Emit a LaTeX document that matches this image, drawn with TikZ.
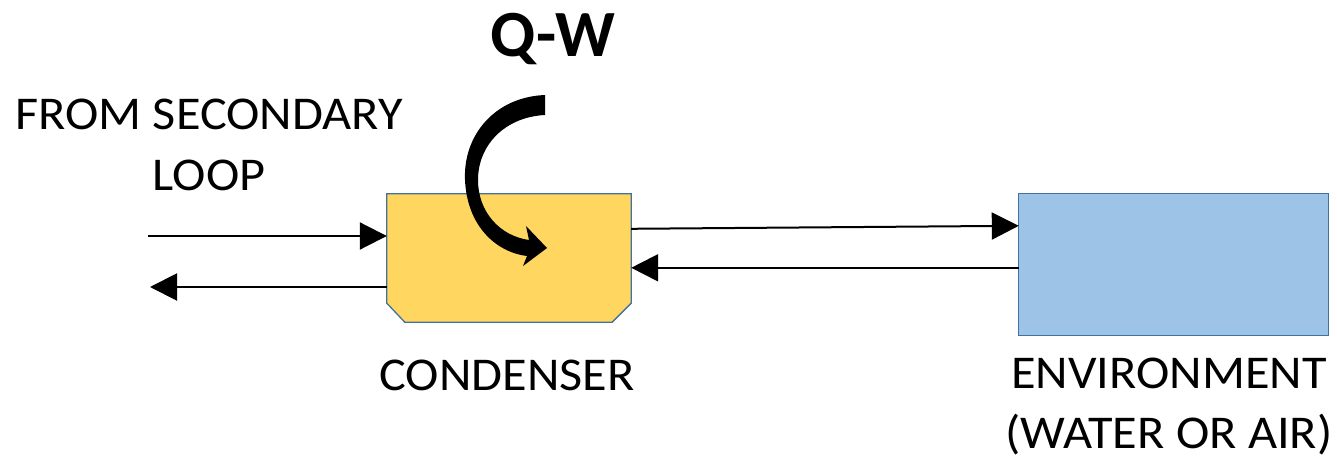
\documentclass[tikz,border=0pt]{standalone}
\usepackage{fontspec}
\setmainfont{Carlito}
\newfontfamily\lblfont{Carlito}[FakeStretch=1.07]
\usetikzlibrary{arrows.meta}
\definecolor{condfill}{RGB}{255,214,95}
\definecolor{envfill}{RGB}{157,195,230}
\definecolor{edgeblue}{RGB}{65,113,156}
\tikzset{
  lbl/.style={font=\lblfont\fontsize{47}{60}\selectfont, inner sep=0pt, align=center, anchor=base},
  qwlbl/.style={font=\fontsize{66}{70}\selectfont\bfseries, inner sep=0pt, anchor=base},
  boxnode/.style={inner sep=0pt, draw=none},
  arr/.style={line width=2pt, -{Triangle[length=27pt,width=27pt]}}
}
\begin{document}
\begin{tikzpicture}[x=1pt,y=-1pt]
\useasboundingbox (0,0) rectangle (1338,465);
% nodes
\node[boxnode, minimum width=244pt, minimum height=128pt] (cond) at (509,258) {};
\node[boxnode, minimum width=309pt, minimum height=141pt] (env) at (1173.5,264.5) {};
\fill[envfill, draw=edgeblue, line width=1.3pt] (env.north west) rectangle (env.south east);
\fill[condfill, draw=edgeblue, line width=1.3pt]
  (cond.north west) -- (cond.north east) -- ([yshift=19pt]cond.south east)
  -- ([xshift=-19pt]cond.south east) -- ([xshift=18pt]cond.south west)
  -- ([yshift=19pt]cond.south west) -- cycle;
% labels
\node[qwlbl] (qw) at (553,57) {Q-W};
\node[lbl] (src) at (209,190) {FROM SECONDARY\\LOOP};
\node[lbl] (condlbl) at (507,390) {CONDENSER};
\node[lbl] (envlbl) at (1169,448) {ENVIRONMENT\\(WATER OR AIR)};
% connectors
\coordinate (inL) at (148,236);
\coordinate (outL) at (150,287);
\draw[arr] (inL) -- (inL -| cond.west);
\draw[arr] (outL -| cond.west) -- (outL);
\draw[arr] ([yshift=-35pt]cond.north east) -- ([yshift=-32pt]env.north west);
\draw[arr] ([yshift=-74pt]env.north west) -- ([yshift=-74pt]cond.north east);
% curved heat arrow
\fill[black]
  (545,95) .. controls (495,97) and (463,135) .. (465,180)
  .. controls (467,225) and (495,252) .. (527,256)
  -- (523,266) -- (547,248) -- (526,226) -- (529,240)
  .. controls (500,236) and (478,212) .. (478,180)
  .. controls (478,145) and (505,117) .. (545,115) -- cycle;
\end{tikzpicture}
\end{document}
